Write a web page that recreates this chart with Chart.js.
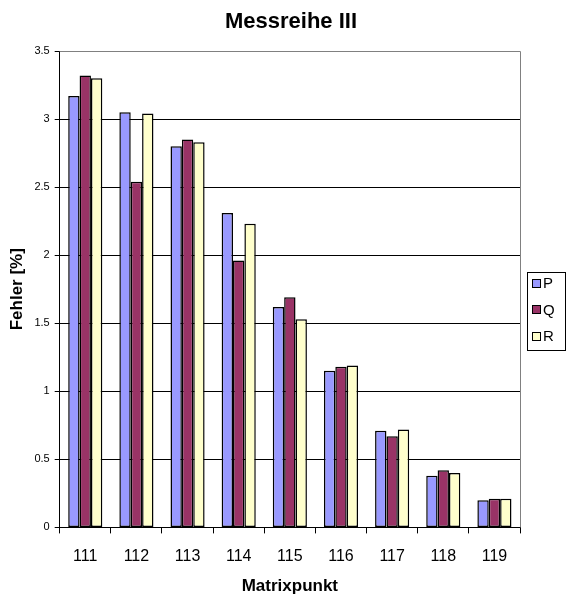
<!DOCTYPE html>
<html>
<head>
<meta charset="utf-8">
<script src="https://cdn.jsdelivr.net/npm/chart.js@4"></script>
<style>
  html, body { margin: 0; padding: 0; background: #fff; }
  canvas { display: block; }
</style>
</head>
<body>
<canvas id="chart" width="566" height="597"></canvas>
<script>
// Messreihe III
const categories = ['111', '112', '113', '114', '115', '116', '117', '118', '119'];
const seriesP = [3.17, 3.05, 2.80, 2.31, 1.62, 1.15, 0.71, 0.38, 0.20];
const seriesQ = [3.32, 2.54, 2.85, 1.96, 1.69, 1.18, 0.67, 0.42, 0.21];
const seriesR = [3.30, 3.04, 2.83, 2.23, 1.53, 1.19, 0.72, 0.40, 0.21];
const yTicks = [0, 0.5, 1, 1.5, 2, 2.5, 3, 3.5];
const chartTitle = 'Messreihe III';

const font = "'Liberation Sans', Arial, sans-serif";

// Titel, Rahmen der Plotfläche und Legende (im Excel-Stil) selbst zeichnen
const framePlugin = {
    id: 'frame',
    afterDraw(chart) {
        const ctx = chart.ctx;
        const a = chart.chartArea;
        ctx.save();

        ctx.fillStyle = '#000';
        ctx.font = 'bold 22px ' + font;
        ctx.textAlign = 'center';
        ctx.textBaseline = 'middle';
        ctx.fillText(chartTitle, 291, 22);

        ctx.strokeStyle = '#808080';
        ctx.lineWidth = 1;
        ctx.beginPath();
        ctx.moveTo(a.left, a.top + 0.5);
        ctx.lineTo(a.right + 0.5, a.top + 0.5);
        ctx.lineTo(a.right + 0.5, a.bottom);
        ctx.stroke();

        const lx = 527, ly = 272, lw = 38, lh = 78;
        ctx.strokeStyle = '#000';
        ctx.strokeRect(lx + 0.5, ly + 0.5, lw, lh);
        ctx.font = '15px ' + font;
        ctx.textAlign = 'left';
        chart.data.datasets.forEach((ds, i) => {
            const cy = ly + 11 + i * 26.5;
            const sy = Math.round(cy - 3.5);
            ctx.fillStyle = ds.backgroundColor;
            ctx.fillRect(533, sy, 7, 7);
            ctx.strokeStyle = '#000';
            ctx.strokeRect(532.5, sy - 0.5, 8, 8);
            ctx.fillStyle = '#000';
            ctx.fillText(ds.label, 543, cy + 1);
        });
        ctx.restore();
    }
};

const ctx = document.getElementById('chart').getContext('2d');
new Chart(ctx, {
    type: 'bar',
    data: {
        labels: categories,
        datasets: [
            { label: 'P', data: seriesP, backgroundColor: '#9999FF' },
            { label: 'Q', data: seriesQ, backgroundColor: '#993366' },
            { label: 'R', data: seriesR, backgroundColor: '#FFFFCC' }
        ].map(d => Object.assign(d, {
            borderColor: '#000',
            borderWidth: 1.5,
            borderSkipped: false,
            categoryPercentage: 0.667,
            barPercentage: 1.0
        }))
    },
    options: {
        responsive: false,
        animation: false,
        layout: { padding: { top: 51, right: 46, bottom: 0, left: 7 } },
        plugins: {
            title: { display: false },
            legend: { display: false },
            tooltip: { enabled: false }
        },
        scales: {
            x: {
                grid: {
                    offset: true,
                    drawOnChartArea: false,
                    color: '#000',
                    tickLength: 6
                },
                border: { color: '#000' },
                ticks: {
                    color: '#000',
                    font: { family: font, size: 16 },
                    padding: 14
                },
                title: {
                    display: true,
                    text: 'Matrixpunkt',
                    color: '#000',
                    font: { family: font, size: 17, weight: 'bold' },
                    padding: { top: -4, bottom: 0 }
                }
            },
            y: {
                min: 0,
                max: 3.5,
                afterBuildTicks: axis => {
                    axis.ticks = yTicks.map(v => ({ value: v }));
                },
                grid: {
                    color: '#000',
                    tickLength: 5
                },
                border: { color: '#000' },
                ticks: {
                    color: '#000',
                    font: { family: font, size: 11 },
                    padding: 5,
                    callback: v => String(v)
                },
                title: {
                    display: true,
                    text: 'Fehler [%]',
                    color: '#000',
                    font: { family: font, size: 17, weight: 'bold' },
                    padding: { top: 0, bottom: 2 }
                }
            }
        }
    },
    plugins: [framePlugin]
});
</script>
</body>
</html>
